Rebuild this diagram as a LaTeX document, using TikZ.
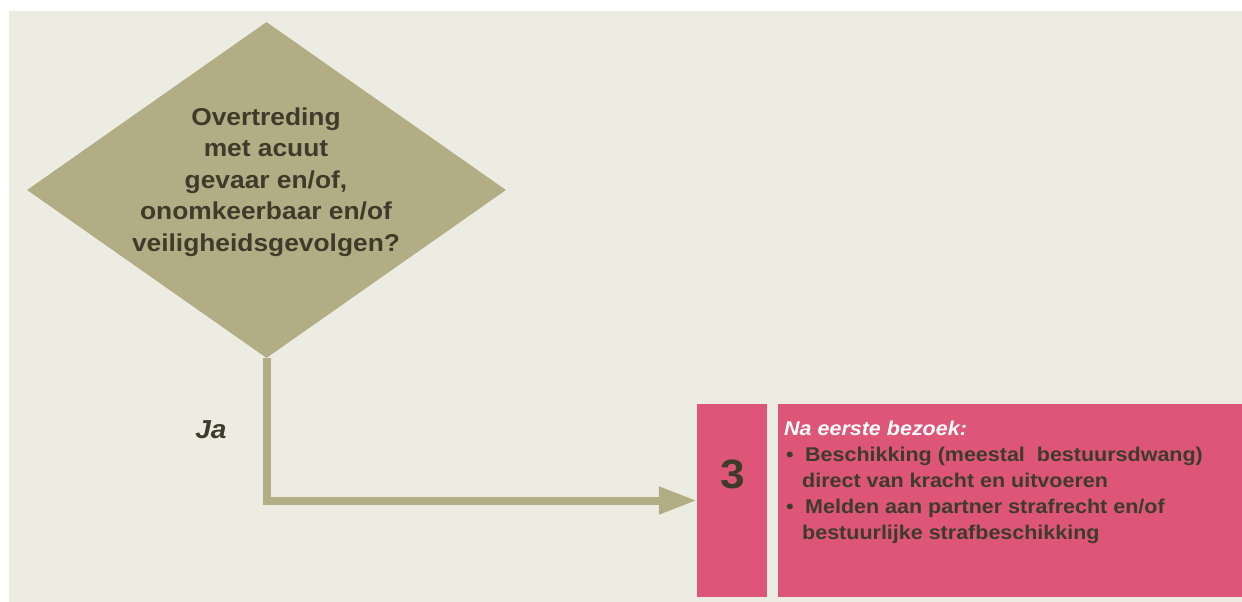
\documentclass[tikz,border=0pt]{standalone}
\usepackage{fontspec}
\setmainfont{Liberation Sans}[FakeStretch=1.08]
\usetikzlibrary{shapes.geometric,arrows.meta}
\definecolor{achtergrond}{HTML}{EDECE3}
\definecolor{olijf}{HTML}{B3AD85}
\definecolor{inkt}{HTML}{3E3B2B}
\definecolor{roze}{HTML}{DE5677}
\begin{document}
\begin{tikzpicture}[x=1pt,y=-1pt,
    vlak/.style={fill=roze,draw=none,inner sep=0pt},
    tekst/.style={text=inkt,inner sep=0pt}]
\useasboundingbox (0,0) rectangle (1242,602);
\fill[achtergrond] (9,11) rectangle (1242,602);
% beslissing
\node[diamond,fill=olijf,inner sep=0pt,minimum width=479pt,minimum height=336pt] (vraag) at (266.5,190) {};
\node[tekst,align=center,font=\bfseries\fontsize{24.4}{31.5}\selectfont] (vraagtekst) at (266,182)
    {Overtreding\\met acuut\\gevaar en/of,\\onomkeerbaar en/of\\veiligheidsgevolgen?};
% stap 3
\node[vlak,minimum width=70pt,minimum height=193pt] (nummer) at (732,500.5) {};
\node[vlak,minimum width=464pt,minimum height=193pt] (actie) at (1010,500.5) {};
\node[tekst,font=\bfseries\fontsize{41}{41}\selectfont] (nr) at (733,474) {3};
\node[tekst,anchor=north west,align=left,font=\bfseries\fontsize{19.9}{26}\selectfont] (actietekst) at (784,420.5)
    {{\color{white}\itshape Na eerste bezoek:}\\
     \hspace*{2pt}\makebox[19pt][l]{\textbullet}Beschikking (meestal~ bestuursdwang)\\
     \hspace*{18pt}direct van kracht en uitvoeren\\
     \hspace*{2pt}\makebox[19pt][l]{\textbullet}Melden aan partner strafrecht en/of\\
     \hspace*{18pt}bestuurlijke strafbeschikking};
% verbinding
\draw[olijf,line width=8pt,-{Triangle[length=38pt,width=26pt]}] (vraag.south) |- (nummer.west);
\node[tekst,font=\bfseries\itshape\fontsize{26}{30}\selectfont] (ja) at (211,430) {Ja};
\end{tikzpicture}
\end{document}
